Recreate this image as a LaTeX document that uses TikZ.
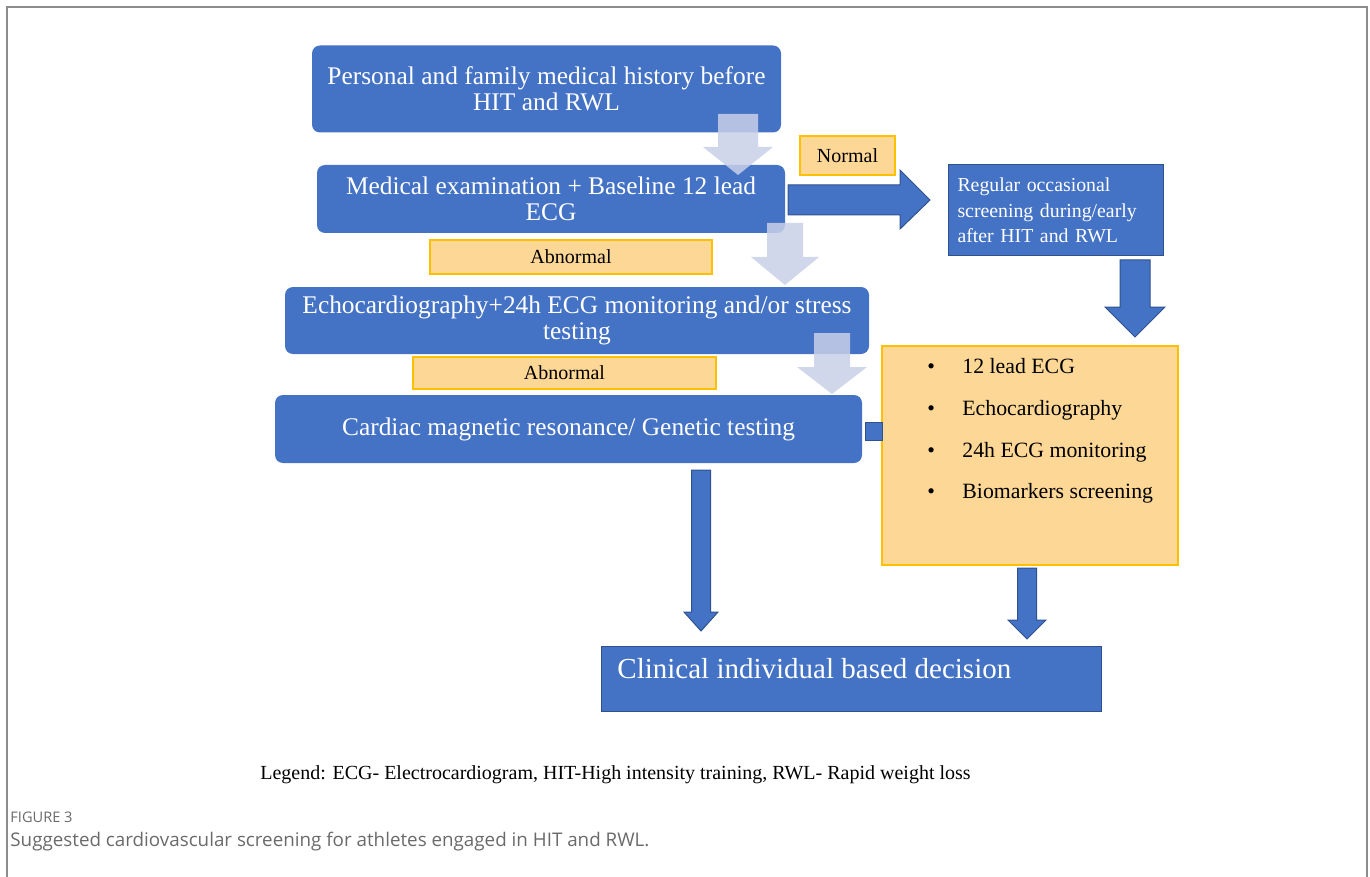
\documentclass[tikz,border=0pt]{standalone}
\usepackage{fontspec}
\setmainfont{Liberation Serif}
\newfontfamily\capfont{Open Sans}
\usepackage{xcolor}
\definecolor{boxblue}{HTML}{4472C4}
\definecolor{boxedge}{HTML}{2F528F}
\definecolor{notefill}{HTML}{FDD795}
\definecolor{noteedge}{HTML}{FFC000}
\definecolor{paleflow}{HTML}{C9D0E8}
\definecolor{framegray}{HTML}{8C8C8C}
\definecolor{captiongray}{HTML}{6A6A6A}

% vertical block arrow: style, x, top, head start, tip, shaft half, head half
\newcommand{\blockdown}[7]{%
  \path[#1] (#2-#6,#3) -- (#2+#6,#3) -- (#2+#6,#4) -- (#2+#7,#4) -- (#2,#5)
    -- (#2-#7,#4) -- (#2-#6,#4) -- cycle;}

\begin{document}
\begin{tikzpicture}[
  x=0.5pt,
  y=-0.5pt,
  bluebox/.style={fill=boxblue, rounded corners=4pt, text=white, align=center,
    inner sep=0pt, font=\fontsize{12.7}{13}\selectfont},
  squarebox/.style={fill=boxblue, draw=boxedge, line width=0.5pt, text=white, inner sep=0pt},
  notebox/.style={fill=notefill, draw=noteedge, line width=0.6pt, inner sep=0pt,
    font=\fontsize{10}{11}\selectfont},
  paleblock/.style={fill=paleflow, fill opacity=0.85},
  blueblock/.style={fill=boxblue, draw=boxedge, line width=0.5pt}
]
  \useasboundingbox (0,0) rectangle (1370,877);
  \draw[framegray, line width=1pt] (7,877) -- (7,7) -- (1367,7) -- (1367,877);

  % main column
  \node[bluebox, minimum width=234.5pt, minimum height=43.5pt] (history) at (546.5,89)
    {Personal and family medical history before\\HIT and RWL};
  \node[bluebox, minimum width=234pt, minimum height=34pt] (exam) at (551,199)
    {Medical examination + Baseline 12 lead\\ECG};
  \node[bluebox, minimum width=292pt, minimum height=33.5pt] (echo) at (577,320.5)
    {Echocardiography+24h ECG monitoring and/or stress\\testing};
  \node[bluebox, minimum width=293.5pt, minimum height=34pt] (cmr) at (568.5,429)
    {Cardiac magnetic resonance/ Genetic testing};

  % notes
  \node[notebox, minimum width=47.5pt, minimum height=19.5pt] (normal) at (847.5,155.5) {Normal};
  \node[notebox, minimum width=141pt, minimum height=17pt] (abnormalA) at (571,257) {Abnormal};
  \node[notebox, minimum width=151.5pt, minimum height=16pt] (abnormalB) at (564.5,373) {Abnormal};

  % right column
  \node[squarebox, minimum width=107.5pt, minimum height=45.5pt, text width=98pt, inner xsep=3.5pt,
    align=left, font=\fontsize{9.9}{12.8}\selectfont] (regular) at (1055.5,210.5)
    {Regular occasional\\screening during/early\\after HIT and RWL};
  \node[notebox, minimum width=148pt, minimum height=109.5pt] (tests) at (1030,455.5) {};
  \node[anchor=west, inner sep=0pt, align=left, font=\fontsize{10.9}{20.8}\selectfont] (testlist) at (927,431)
    {\makebox[17.5pt][l]{\textbullet}12 lead ECG\\
     \makebox[17.5pt][l]{\textbullet}Echocardiography\\
     \makebox[17.5pt][l]{\textbullet}24h ECG monitoring\\
     \makebox[17.5pt][l]{\textbullet}Biomarkers screening};
  \node[squarebox, minimum width=8.5pt, minimum height=9pt] (link) at (873.5,431) {};

  \node[squarebox, minimum width=250pt, minimum height=32.5pt] (decision) at (851,678.5) {};
  \node[anchor=west, text=white, inner sep=0pt, font=\fontsize{14.5}{16}\selectfont] (decisiontext)
    at (617,669) {Clinical individual based decision};

  % arrows
  \blockdown{paleblock}{738}{114}{147}{175}{20}{35}
  \blockdown{paleblock}{785}{223}{257}{285}{18}{34}
  \blockdown{paleblock}{832}{333}{367}{394}{18}{35}
  \path[blueblock] (788,185) -- (900,185) -- (900,170) -- (930,200) -- (900,229)
    -- (900,215) -- (788,215) -- cycle;
  \blockdown{blueblock}{1135}{260}{307}{337}{15}{30}
  \blockdown{blueblock}{701}{470}{612}{631}{9.5}{17}
  \blockdown{blueblock}{1027}{568}{620}{639}{9.5}{19}

  % legend and caption
  \node[font=\fontsize{10}{12}\selectfont] (legend) at (615.5,775)
    {Legend: ECG- Electrocardiogram, HIT-High intensity training, RWL- Rapid weight loss};
  \node[anchor=west, inner sep=0pt, text=captiongray, font=\capfont\fontsize{7.3}{8}\selectfont] (figlabel)
    at (10,817) {FIGURE 3};
  \node[anchor=west, inner sep=0pt, text=captiongray, font=\capfont\fontsize{9.4}{11}\selectfont] (caption)
    at (10,842) {Suggested cardiovascular screening for athletes engaged in HIT and RWL.};
\end{tikzpicture}
\end{document}
